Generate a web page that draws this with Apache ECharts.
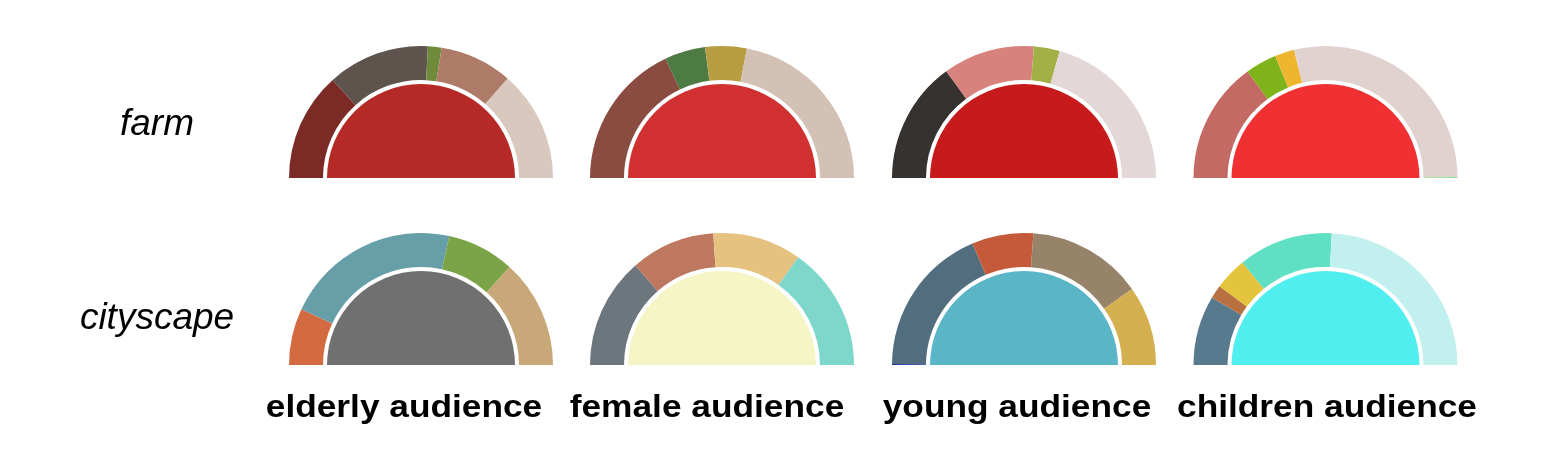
<!DOCTYPE html>
<html>
<head>
<meta charset="utf-8">
<script src="https://cdn.jsdelivr.net/npm/echarts@6/dist/echarts.min.js"></script>
<style>
  html, body { margin: 0; padding: 0; background: #fff; }
  #chart { width: 1554px; height: 458px; }
</style>
</head>
<body>
<div id="chart"></div>
<script>
// column / row labels
const audiences = ['elderly audience', 'female audience', 'young audience', 'children audience'];
const scenes = ['farm', 'cityscape'];

// ring shares (in degrees of the half circle)
const farmElderly = [48, 45, 6, 32, 49];
const farmFemale = [64.6, 18, 18.3, 79.1];
const farmYoung = [53.9, 40.4, 11.4, 74.3];
const farmChildren = [53.8, 13.8, 8.6, 103.4, 0.4];
const cityElderly = [25, 77.4, 29.7, 47.9];
const cityFemale = [49, 37.2, 39, 54.8];
const cityYoung = [0.4, 66.6, 27.1, 50.8, 35.1];
const cityChildren = [30.7, 5.9, 14.4, 41.7, 87.3];

// colours
const farmElderlyColors = ['#7B2A25', '#5F534E', '#6E8A3A', '#AD7B68', '#D8C8BE'];
const farmFemaleColors = ['#8A4B40', '#4E7A44', '#B89E42', '#D3C1B5'];
const farmYoungColors = ['#363230', '#D8827E', '#A3B047', '#E3D8D7'];
const farmChildrenColors = ['#C46A64', '#7FB31A', '#EEB52F', '#E0D2CE', '#90E090'];
const cityElderlyColors = ['#D36A40', '#679FA8', '#7BA448', '#C8A878'];
const cityFemaleColors = ['#6C767C', '#BE7860', '#E6C280', '#7DD8CB'];
const cityYoungColors = ['#2030A0', '#526E7E', '#C45A3A', '#97836A', '#D4B050'];
const cityChildrenColors = ['#587A8E', '#B87040', '#E4C43C', '#5FE0C2', '#C2F0EF'];
const coreColors = [
  ['#B52A27', '#D03030', '#C8191B', '#F03033'],
  ['#707070', '#F5F5C5', '#5AB5C7', '#50EEEE']
];

const rings = [
  [farmElderly, farmFemale, farmYoung, farmChildren],
  [cityElderly, cityFemale, cityYoung, cityChildren]
];
const ringColors = [
  [farmElderlyColors, farmFemaleColors, farmYoungColors, farmChildrenColors],
  [cityElderlyColors, cityFemaleColors, cityYoungColors, cityChildrenColors]
];

const colX = [421, 722, 1024, 1325.5];
const rowY = [178, 365];

const chart = echarts.init(document.getElementById('chart'));

let series = [];
rings.forEach((row, r) => {
  row.forEach((vals, c) => {
    const base = {
      type: 'pie',
      center: [colX[c], rowY[r]],
      startAngle: 180,
      endAngle: 0,
      silent: true,
      animation: false,
      label: { show: false },
      labelLine: { show: false },
      emphasis: { disabled: true },
      itemStyle: { borderWidth: 0, borderRadius: 0 }
    };
    series.push(Object.assign({}, base, {
      radius: [0, 94],
      data: [{ value: 1, itemStyle: { color: coreColors[r][c] } }]
    }));
    series.push(Object.assign({}, base, {
      radius: [98, 132],
      data: vals.map((v, i) => ({ value: v, itemStyle: { color: ringColors[r][c][i] } }))
    }));
  });
});

const labelX = [404, 707, 1017, 1327];
let graphics = [];
audiences.forEach((t, i) => {
  graphics.push({
    type: 'text',
    x: labelX[i],
    y: 408,
    scaleX: 1.12,
    style: {
      text: t,
      font: 'bold 31.5px "Liberation Sans", Arial, sans-serif',
      fill: '#000',
      textAlign: 'center',
      textVerticalAlign: 'middle'
    }
  });
});
const sceneY = [125, 319];
scenes.forEach((t, i) => {
  graphics.push({
    type: 'text',
    x: 157,
    y: sceneY[i],
    style: {
      text: t,
      font: 'italic 37px "Liberation Sans", Arial, sans-serif',
      fill: '#000',
      textAlign: 'center',
      textVerticalAlign: 'middle'
    }
  });
});

chart.setOption({
  backgroundColor: '#fff',
  animation: false,
  series: series,
  graphic: graphics
});
</script>
</body>
</html>
